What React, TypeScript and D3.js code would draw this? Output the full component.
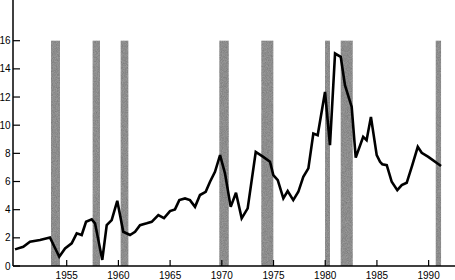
import React from "react";
import * as d3 from "d3";

const years: number[] = [
  1950.0, 1950.8, 1951.45, 1952.42, 1953.38, 1954.28, 1954.84, 1955.48, 1955.97, 1956.45,
  1956.87, 1957.42, 1957.74, 1958.44, 1958.87, 1959.35, 1959.89, 1960.47, 1961.12, 1961.61,
  1962.09, 1962.74, 1963.22, 1963.86, 1964.41, 1964.99, 1965.47, 1965.89, 1966.44, 1966.92,
  1967.41, 1967.89, 1968.44, 1968.86, 1969.34, 1969.83, 1970.31, 1970.86, 1971.37, 1971.92,
  1972.5, 1973.28, 1974.01, 1974.66, 1974.98, 1975.41, 1975.95, 1976.37, 1976.91, 1977.4,
  1977.88, 1978.37, 1978.85, 1979.27, 1979.98, 1980.46, 1980.95, 1981.5, 1981.91, 1982.56,
  1982.95, 1983.67, 1984.0, 1984.42, 1984.98, 1985.3, 1985.52, 1985.95, 1986.43, 1986.97,
  1987.4, 1987.88, 1988.42, 1988.95, 1989.33, 1989.97, 1991.2,
];
const rates: number[] = [
  1.18, 1.37, 1.72, 1.84, 2.03, 0.66, 1.25, 1.61, 2.32, 2.2,
  3.14, 3.31, 3.03, 0.43, 2.9, 3.26, 4.63, 2.43, 2.2, 2.43,
  2.9, 3.03, 3.14, 3.62, 3.4, 3.9, 4.02, 4.68, 4.8, 4.68,
  4.2, 5.04, 5.27, 5.98, 6.69, 7.87, 6.57, 4.2, 5.2, 3.38,
  4.09, 8.1, 7.75, 7.4, 6.45, 6.1, 4.8, 5.32, 4.68, 5.27,
  6.33, 6.93, 9.41, 9.29, 12.36, 8.58, 15.09, 14.85, 12.84, 11.3,
  7.7, 9.17, 8.94, 10.59, 7.87, 7.4, 7.23, 7.16, 5.98, 5.39,
  5.74, 5.91, 7.16, 8.46, 8.04, 7.75, 7.1,
];

const recessionStarts: number[] = [1953.48, 1957.51, 1960.22, 1969.76, 1973.82, 1979.98, 1981.5, 1990.69];
const recessionEnds: number[] = [1954.35, 1958.22, 1960.96, 1970.67, 1974.98, 1980.46, 1982.66, 1991.2];
const recessionTop = 16;

const xTicks: number[] = [1955, 1960, 1965, 1970, 1975, 1980, 1985, 1990];
const yTicks: number[] = [0, 2, 4, 6, 8, 10, 12, 14, 16];

const W = 455;
const H = 280;

export default function App() {
  const x = d3.scaleLinear().domain([1950, 1992.55]).range([15, 455]);
  const y = d3.scaleLinear().domain([0, 16]).range([266, 40.7]);
  const axisX = 13;
  const axisY = y(0);

  const data = years.map((yr, i) => [yr, rates[i]] as [number, number]);
  const line = d3
    .line<[number, number]>()
    .x((d) => x(d[0]))
    .y((d) => y(d[1]))
    .curve(d3.curveLinear);

  const font = "'Liberation Sans', Arial, sans-serif";

  return (
    <svg
      width={W}
      height={H}
      style={{ position: "absolute", left: 0, top: 0, background: "#fff" }}
    >
      <defs>
        <filter id="grain" x="0" y="0" width="100%" height="100%">
          <feTurbulence type="fractalNoise" baseFrequency="1.2" numOctaves="2" seed="3" result="n" />
          <feColorMatrix
            in="n"
            type="matrix"
            values="0 0 0 0 0  0 0 0 0 0  0 0 0 0 0  0 0 0 0.6 -0.1"
            result="dots"
          />
          <feComposite in="dots" in2="SourceGraphic" operator="in" result="d2" />
          <feMerge>
            <feMergeNode in="SourceGraphic" />
            <feMergeNode in="d2" />
          </feMerge>
        </filter>
      </defs>
      <g filter="url(#grain)">
        {recessionStarts.map((s, i) => (
          <rect
            key={i}
            x={x(s)}
            y={y(recessionTop)}
            width={x(recessionEnds[i]) - x(s)}
            height={axisY - y(recessionTop)}
            fill="#9c9c9c"
          />
        ))}
      </g>
      <path
        d={line(data) || ""}
        fill="none"
        stroke="#000"
        strokeWidth={2.6}
        strokeLinejoin="miter"
        strokeMiterlimit={3}
      />
      <line x1={axisX} y1={0} x2={axisX} y2={axisY} stroke="#000" strokeWidth={1.5} />
      <line x1={axisX} y1={axisY} x2={W} y2={axisY} stroke="#000" strokeWidth={1.5} />
      {yTicks.map((t) => (
        <g key={t}>
          <line x1={axisX} x2={axisX + 7} y1={y(t)} y2={y(t)} stroke="#000" strokeWidth={1.2} />
          <text
            x={10.5}
            y={y(t)}
            textAnchor="end"
            dominantBaseline="central"
            fontFamily={font}
            fontSize={10}
            fill="#000"
          >
            {t}
          </text>
        </g>
      ))}
      {xTicks.map((t) => (
        <g key={t}>
          <line x1={x(t)} x2={x(t)} y1={axisY} y2={axisY - 6} stroke="#000" strokeWidth={1.2} />
          <text
            x={x(t)}
            y={278.5}
            textAnchor="middle"
            fontFamily={font}
            fontSize={10}
            fill="#000"
          >
            {t}
          </text>
        </g>
      ))}
    </svg>
  );
}
